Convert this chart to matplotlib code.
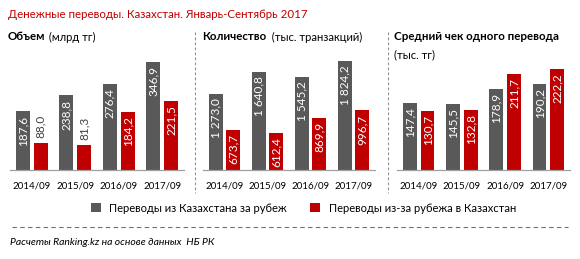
import matplotlib
matplotlib.use("Agg")
import matplotlib.pyplot as plt
from matplotlib.lines import Line2D
from matplotlib.patches import Patch

plt.rcParams['font.family'] = ['Lato', 'DejaVu Sans']

categories = ['2014/09', '2015/09', '2016/09', '2017/09']
vol_out = [187.6, 238.8, 276.4, 346.9]
vol_in = [88.0, 81.3, 184.2, 221.5]
cnt_out = [1273.0, 1640.8, 1545.2, 1824.2]
cnt_in = [673.7, 612.4, 869.9, 996.7]
avg_out = [147.4, 145.5, 178.9, 190.2]
avg_in = [130.7, 132.8, 211.7, 222.2]

series_names = ['Переводы из Казахстана за рубеж', 'Переводы из-за рубежа в Казахстан']
GRAY = '#595959'
RED = '#C00000'

W, H = 580, 259
fig = plt.figure(figsize=(W / 100, H / 100), dpi=100)
fig.patch.set_facecolor('white')


def fx(px):
    return px / W


def fy(py):
    return 1 - py / H


def fmt(v):
    s = f"{v:,.1f}"
    return s.replace(',', 'X').replace('.', ',').replace('X', ' ')


panels = [
    (10, 184, 384, vol_out, vol_in),
    (203, 375, 2003, cnt_out, cnt_in),
    (397, 570, 264, avg_out, avg_in),
]
base_y = 170
top_y = 50

renderer = fig.canvas.get_renderer()
all_labels = []
for (x0, x1, ymax, s_out, s_in) in panels:
    ax = fig.add_axes([fx(x0), fy(base_y), fx(x1 - x0), (base_y - top_y) / H])
    xs = list(range(len(categories)))
    bw = 0.32
    off = 0.205
    b1 = ax.bar([x - off for x in xs], s_out, bw, color=GRAY)
    b2 = ax.bar([x + off for x in xs], s_in, bw, color=RED)
    ax.set_xlim(-0.5, 3.5)
    ax.set_ylim(0, ymax)
    ax.set_yticks([])
    ax.set_xticks(xs)
    ax.set_xticklabels(categories, fontsize=7, color='black')
    ax.tick_params(axis='x', length=0, pad=8)
    for sp in ['top', 'right', 'left']:
        ax.spines[sp].set_visible(False)
    ax.spines['bottom'].set_color('#A0A0A0')
    ax.spines['bottom'].set_linewidth(0.9)
    ax.patch.set_visible(False)
    for bars, vals in ((b1, s_out), (b2, s_in)):
        for rect, v in zip(bars, vals):
            cx = rect.get_x() + rect.get_width() / 2
            t = ax.annotate(fmt(v), xy=(cx, v), xytext=(0, -3), textcoords='offset points',
                            rotation=90, ha='center', va='top', color='white', fontsize=8.5)
            all_labels.append((ax, t, cx, v))

fig.canvas.draw()
for ax, t, cx, v in all_labels:
    top_disp = ax.transData.transform((cx, v))[1]
    base_disp = ax.transData.transform((cx, 0))[1]
    if top_disp - base_disp < 32:
        t.set_position((0, 3))
        t.set_va('bottom')
        t.set_color('#404040')

# titles
fig.text(fx(8), fy(15), 'Денежные переводы. Казахстан. Январь-Сентябрь 2017',
         color=RED, fontsize=8.3, ha='left', va='center')


def two_part(x, y, bold, regular):
    t1 = fig.text(fx(x), fy(y), bold, fontsize=8.3, fontweight='bold', ha='left', va='center')
    fig.canvas.draw()
    bb = t1.get_window_extent(renderer)
    fig.text(bb.x1 / W, fy(y), regular, fontsize=8, ha='left', va='center')


two_part(8, 37, 'Объем', ' (млрд тг)')
two_part(202, 37, 'Количество', '  (тыс. транзакций)')
fig.text(fx(394), fy(37), 'Средний чек одного перевода', fontsize=8.3, fontweight='bold',
         ha='left', va='center')
fig.text(fx(394), fy(55), '(тыс. тг)', fontsize=8, ha='left', va='center')

# separators
for xsep in (195, 388):
    fig.add_artist(Line2D([fx(xsep), fx(xsep)], [fy(32), fy(193)], color='#909090',
                          lw=0.8, linestyle=(0, (2.5, 2))))
fig.add_artist(Line2D([fx(12), fx(568)], [fy(227), fy(227)], color='#707070',
                      lw=0.8, linestyle=(0, (4, 3))))

# legend
handles = [Patch(facecolor=GRAY), Patch(facecolor=RED)]
fig.legend(handles, series_names, loc='center', bbox_to_anchor=(fx(303.5), fy(208)),
           ncol=2, frameon=False, fontsize=8, handlelength=0.85, handleheight=0.85,
           handletextpad=0.8, columnspacing=2.1, borderpad=0, borderaxespad=0)

fig.text(fx(10), fy(242), 'Расчеты Ranking.kz на основе данных  НБ РК', fontsize=7.5,
         style='italic', ha='left', va='center')

fig.savefig('out.png', dpi=100, facecolor='white')
